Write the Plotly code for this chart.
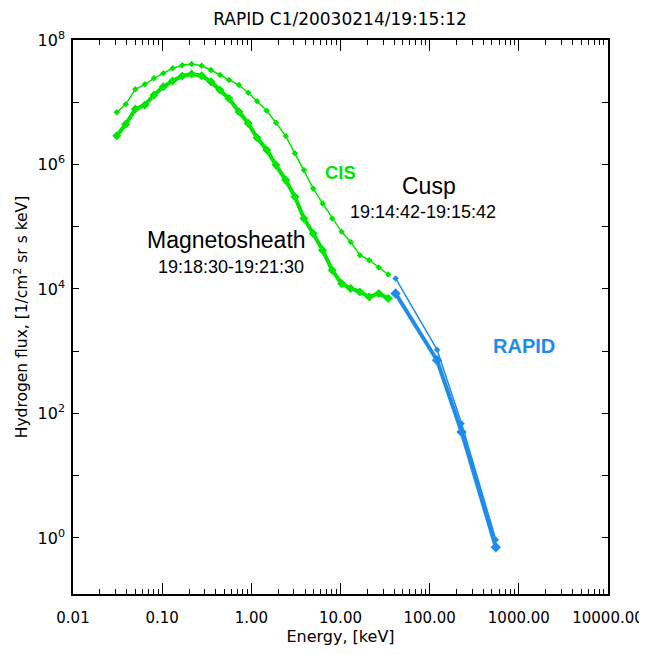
import plotly.graph_objects as go

# ---- data ----
cis_energy = [0.031, 0.039, 0.050, 0.064, 0.081, 0.103, 0.131, 0.168, 0.214, 0.277,
              0.352, 0.445, 0.561, 0.726, 0.923, 1.16, 1.49, 1.89, 2.43, 3.08,
              3.89, 4.94, 6.30, 8.07, 10.3, 13.0, 16.5, 21.0, 26.9, 34.3]
cis_cusp = [6.89e6, 9.25e6, 1.61e7, 1.94e7, 2.42e7, 2.92e7, 3.51e7, 3.92e7, 4.11e7, 3.86e7,
            3.30e7, 2.74e7, 2.28e7, 1.89e7, 1.42e7, 1.04e7, 7.29e6, 4.68e6, 2.86e6, 1.51e6,
            8.13e5, 4.13e5, 2.37e5, 1.36e5, 8.28e4, 5.71e4, 3.49e4, 2.90e4, 2.21e4, 1.71e4]
cis_msheath = [2.89e6, 4.42e6, 7.78e6, 9.02e6, 1.31e7, 1.77e7, 2.19e7, 2.64e7, 2.84e7, 2.67e7,
               2.14e7, 1.57e7, 1.15e7, 7.03e6, 4.58e6, 2.69e6, 1.71e6, 9.77e5, 5.61e5, 3.03e5,
               1.36e5, 7.80e4, 4.21e4, 2.00e4, 1.22e4, 1.02e4, 8.97e3, 7.46e3, 8.47e3, 7.03e3]
rapid_energy = [41.5, 121, 228, 552]
rapid_cusp = [1.48e4, 1.06e3, 68.9, 0.94]
rapid_msheath = [8.47e3, 716, 50.5, 0.71]

x_tickvals = [0.01, 0.1, 1, 10, 100, 1000, 10000]
x_ticktext = ["0.01", "0.10", "1.00", "10.00", "100.00", "1000.00", "10000.00"]
y_tickvals = [1, 10, 100, 1e3, 1e4, 1e5, 1e6, 1e7, 1e8]
y_ticktext = ["10<sup>0</sup>", "", "10<sup>2</sup>", "", "10<sup>4</sup>", "",
              "10<sup>6</sup>", "", "10<sup>8</sup>"]

GREEN = "rgb(0,230,0)"
BLUE = "rgb(30,140,235)"
AXFONT = "DejaVu Sans, sans-serif"
FONT = "Liberation Sans, Arial, sans-serif"

fig = go.Figure()
fig.add_trace(go.Scatter(x=cis_energy, y=cis_cusp, mode="lines+markers",
                         line=dict(color=GREEN, width=1.5),
                         marker=dict(symbol="diamond", size=5, color=GREEN)))
fig.add_trace(go.Scatter(x=cis_energy, y=cis_msheath, mode="lines+markers",
                         line=dict(color=GREEN, width=4),
                         marker=dict(symbol="diamond", size=7, color=GREEN)))
fig.add_trace(go.Scatter(x=rapid_energy, y=rapid_cusp, mode="lines+markers",
                         line=dict(color=BLUE, width=1.5),
                         marker=dict(symbol="diamond", size=5, color=BLUE)))
fig.add_trace(go.Scatter(x=rapid_energy, y=rapid_msheath, mode="lines+markers",
                         line=dict(color=BLUE, width=4),
                         marker=dict(symbol="diamond", size=8, color=BLUE)))

minor_x = [m * 10 ** k for k in range(-2, 4) for m in range(2, 10)]

fig.update_layout(
    width=639, height=638,
    margin=dict(l=65, r=39, t=32, b=52),
    paper_bgcolor="white", plot_bgcolor="white",
    showlegend=False,
    font=dict(family=AXFONT, color="black"),
    title=dict(text="RAPID C1/20030214/19:15:12", x=0.5196, xanchor="center",
               y=1 - 11 / 638, yanchor="middle", font=dict(size=17, family=AXFONT)),
    xaxis=dict(type="log", range=[-2, 4], tickmode="array",
               tickvals=x_tickvals, ticktext=x_ticktext, automargin=False,
               ticks="inside", ticklen=11, tickwidth=1, tickcolor="black",
               showline=True, linecolor="black", linewidth=1.5, mirror="ticks",
               showgrid=False, zeroline=False,
               tickfont=dict(size=15, family=AXFONT),
               ticklabelstandoff=9,
               minor=dict(tickvals=minor_x, ticks="inside", ticklen=5,
                          tickcolor="black", showgrid=False),
               title=dict(text="Energy, [keV]", font=dict(size=16, family=AXFONT),
                          standoff=4)),
    yaxis=dict(type="log", range=[-0.9, 8], tickmode="array",
               tickvals=y_tickvals, ticktext=y_ticktext, automargin=False,
               ticks="inside", ticklen=6, tickwidth=1, tickcolor="black",
               showline=True, linecolor="black", linewidth=1.5, mirror="ticks",
               showgrid=False, zeroline=False,
               tickfont=dict(size=16, family=AXFONT),
               ticklabelstandoff=3,
               title=dict(text="Hydrogen flux, [1/cm<sup>2</sup> sr s keV]",
                          font=dict(size=15.5, family=AXFONT), standoff=6)),
)

annots = [
    dict(x=1.004, y=5.878, text="<b>CIS</b>", color=GREEN, size=18.5),
    dict(x=1.991, y=5.653, text="Cusp", color="black", size=23),
    dict(x=1.924, y=5.235, text="19:14:42-19:15:42", color="black", size=18),
    dict(x=-0.277, y=4.785, text="Magnetosheath", color="black", size=23),
    dict(x=-0.231, y=4.346, text="19:18:30-19:21:30", color="black", size=18),
    dict(x=3.056, y=3.080, text="<b>RAPID</b>", color=BLUE, size=20),
]
for a in annots:
    fig.add_annotation(x=a["x"], y=a["y"], xref="x", yref="y", text=a["text"],
                       showarrow=False, xanchor="center", yanchor="middle",
                       font=dict(color=a["color"], size=a["size"], family=FONT))

fig.write_html("out.html")
